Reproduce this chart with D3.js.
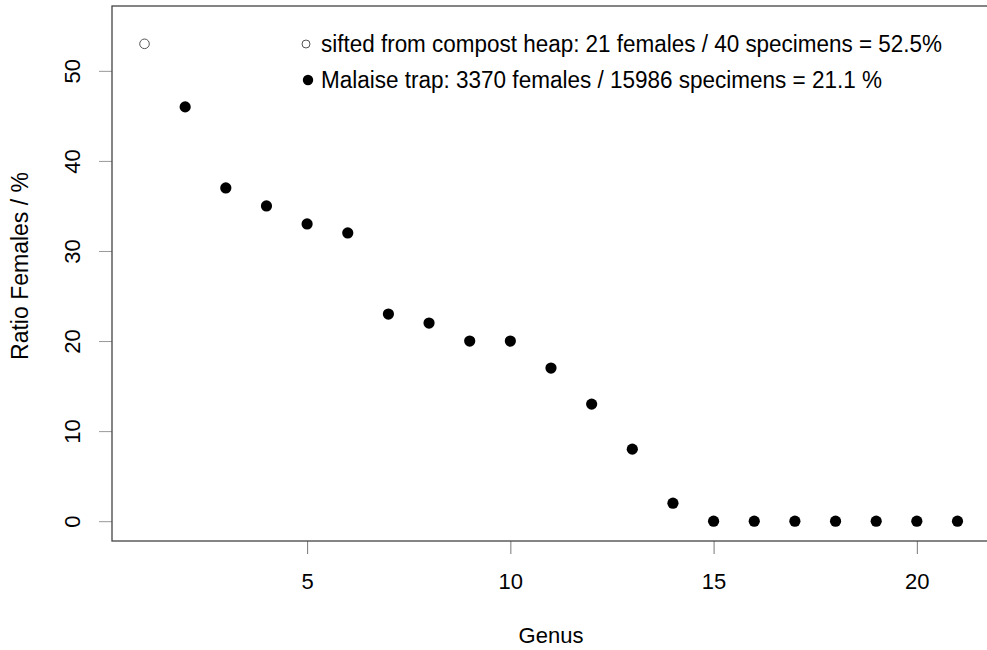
<!DOCTYPE html>
<html>
<head>
<meta charset="utf-8">
<script src="https://cdn.jsdelivr.net/npm/d3@7"></script>
<style>
  body { margin: 0; background: #fff; }
  svg { display: block; font-family: "Liberation Sans", Arial, Helvetica, sans-serif; }
</style>
</head>
<body>
<svg id="chart" width="987" height="650"></svg>
<script>
// genus index and ratio of females (%)
var genus = [1, 2, 3, 4, 5, 6, 7, 8, 9, 10, 11, 12, 13, 14, 15, 16, 17, 18, 19, 20, 21];
var ratio = [53, 46, 37, 35, 33, 32, 23, 22, 20, 20, 17, 13, 8, 2, 0, 0, 0, 0, 0, 0, 0];
// first genus only came from the compost heap sample
var source = ["compost", "malaise", "malaise", "malaise", "malaise", "malaise", "malaise",
  "malaise", "malaise", "malaise", "malaise", "malaise", "malaise", "malaise", "malaise",
  "malaise", "malaise", "malaise", "malaise", "malaise", "malaise"];
var xTicks = [5, 10, 15, 20];
var yTicks = [0, 10, 20, 30, 40, 50];
var legendLabels = [
  "sifted from compost heap: 21 females / 40 specimens = 52.5%",
  "Malaise trap: 3370 females / 15986 specimens = 21.1 %"
];
var legendSource = ["compost", "malaise"];

var svg = d3.select("#chart"),
    margin = {top: 6, right: -3, bottom: 109, left: 112},
    width = 987 - margin.left - margin.right,
    height = 650 - margin.top - margin.bottom,
    g = svg.append("g").attr("transform", "translate(" + margin.left + "," + margin.top + ")");

// R style 4% padding around the data ranges
var x = d3.scaleLinear().domain([0.2, 21.8]).range([0, width]);
var y = d3.scaleLinear().domain([-2.2, 57.2]).range([height, 0]);

var xAxis = g.append("g")
    .attr("transform", "translate(0," + height + ")")
    .call(d3.axisBottom(x).tickValues(xTicks).tickSize(13).tickPadding(19));
xAxis.select(".domain").remove();
xAxis.selectAll("line").attr("stroke", "#777");
xAxis.selectAll("text").attr("font-size", "22px").attr("fill", "#000")
    .attr("font-family", "Liberation Sans, Arial, sans-serif");

var yAxis = g.append("g")
    .call(d3.axisLeft(y).tickValues(yTicks).tickSize(13).tickPadding(0));
yAxis.select(".domain").remove();
yAxis.selectAll("line").attr("stroke", "#999");
yAxis.selectAll("text")
    .attr("font-size", "22px").attr("fill", "#000")
    .attr("font-family", "Liberation Sans, Arial, sans-serif")
    .attr("text-anchor", "middle")
    .attr("x", null)
    .attr("transform", "translate(-39.5,0) rotate(-90)")
    .attr("y", 0)
    .attr("dy", "0.35em");

// plot box
g.append("rect")
    .attr("x", 0).attr("y", 0)
    .attr("width", width).attr("height", height)
    .attr("fill", "none")
    .attr("stroke", "#444")
    .attr("stroke-width", 1.3);

g.selectAll(".pt")
    .data(genus)
    .enter().append("circle")
    .attr("class", "pt")
    .attr("cx", function (d) { return x(d); })
    .attr("cy", function (d, i) { return y(ratio[i]); })
    .attr("r", function (d, i) { return source[i] === "compost" ? 4.8 : 5.6; })
    .attr("fill", function (d, i) { return source[i] === "compost" ? "#fff" : "#000"; })
    .attr("stroke", function (d, i) { return source[i] === "compost" ? "#555" : "none"; })
    .attr("stroke-width", 1);

// legend
var legendWidths = [621, 561];
var legend = g.selectAll(".leg")
    .data(legendLabels)
    .enter().append("g")
    .attr("class", "leg")
    .attr("transform", function (d, i) { return "translate(" + (194 + i * 2) + "," + (38 + i * 36) + ")"; });

legend.append("circle")
    .attr("r", function (d, i) { return legendSource[i] === "compost" ? 4 : 5.2; })
    .attr("fill", function (d, i) { return legendSource[i] === "compost" ? "#fff" : "#000"; })
    .attr("stroke", function (d, i) { return legendSource[i] === "compost" ? "#555" : "none"; })
    .attr("stroke-width", 1);

legend.append("text")
    .attr("x", function (d, i) { return 15 - i * 2; })
    .attr("dy", "0.35em")
    .attr("font-size", "23px")
    .attr("textLength", function (d, i) { return legendWidths[i]; })
    .attr("lengthAdjust", "spacingAndGlyphs")
    .text(function (d) { return d; });

// axis titles
svg.append("text")
    .attr("x", margin.left + width / 2)
    .attr("y", 643)
    .attr("text-anchor", "middle")
    .attr("font-size", "22px")
    .text("Genus");

svg.append("text")
    .attr("transform", "translate(28,266) rotate(-90)")
    .attr("text-anchor", "middle")
    .attr("font-size", "23px")
    .text("Ratio Females / %");
</script>
</body>
</html>
